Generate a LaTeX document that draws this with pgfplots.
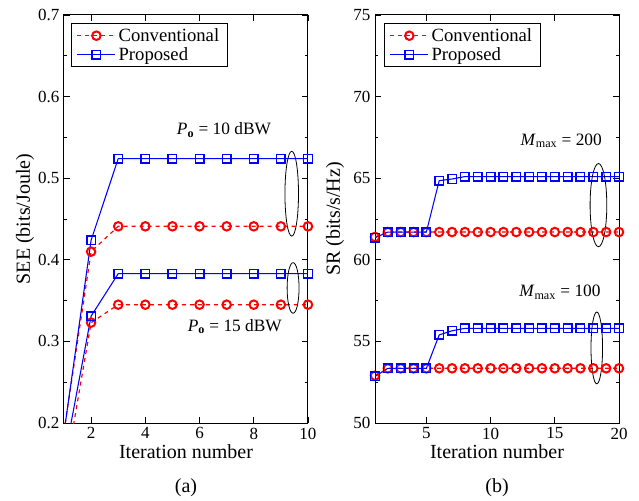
\documentclass[border=0pt]{standalone}
\usepackage{fontspec}
\setmainfont{Liberation Serif}
\usepackage{pgfplots}
\pgfplotsset{compat=1.18}
\definecolor{myred}{RGB}{255,0,0}
\definecolor{myblue}{RGB}{0,0,255}
\pgfplotsset{
  common/.style={
    scale only axis, width=183pt, height=306pt,
    /pgf/number format/assume math mode=true,
    tick label style={font=\fontsize{12.75}{14}\selectfont},
    label style={font=\fontsize{15}{17}\selectfont},
    legend style={font=\fontsize{14}{16}\selectfont, draw=black, line width=0.6pt,
      inner xsep=4pt, inner ysep=1.5pt, row sep=-1pt, legend cell align=left},
    major tick length=4.5pt, minor tick length=2.5pt,
    tick style={black, line width=0.6pt},
    axis line style={line width=0.75pt},
    minor y tick num=1,
    clip=true,
  },
  conv/.style={myred, dashed, line width=0.9pt, mark=o, mark size=3.2pt,
    mark options={solid, line width=1.5pt}},
  prop/.style={myblue, solid, line width=0.8pt, mark=square, mark size=3.2pt,
    mark options={solid, line width=1.1pt}},
  legend image code/.code={\draw[mark repeat=2,mark phase=2] plot coordinates {(0cm,0cm) (0.5cm,0cm) (1.0cm,0cm)};},
}
\begin{document}
\begin{tikzpicture}
\useasboundingbox (-48pt,-57.75pt) rectangle (431.25pt,317.25pt);
% ---------------- (a)
\begin{axis}[common, name=left, at={(0pt,0pt)}, anchor=south west,
  xmin=1, xmax=10, ymin=0.2, ymax=0.7,
  xtick={2,4,6,8,10}, ytick={0.2,0.3,0.4,0.5,0.6,0.7},
  yticklabel style={/pgf/number format/.cd, fixed, precision=1},
  xlabel={Iteration number}, ylabel={SEE (bits/Joule)},
  xlabel style={at={(axis description cs:0.5,-0.071)}, anchor=center},
  ylabel style={at={(axis description cs:-0.16,0.5)}, anchor=center},
  legend style={at={(axis description cs:0.029,0.98)}, anchor=north west},
]
\addplot[conv] coordinates {(1,0.19) (2,0.410) (3,0.441) (4,0.441) (5,0.441) (6,0.441) (7,0.441) (8,0.441) (9,0.441) (10,0.441)};
\addlegendentry{Conventional}
\addplot[prop] coordinates {(1,0.188) (2,0.424) (3,0.524) (4,0.524) (5,0.524) (6,0.524) (7,0.524) (8,0.524) (9,0.524) (10,0.524)};
\addlegendentry{Proposed}
\addplot[conv, forget plot] coordinates {(1,0.13) (2,0.323) (3,0.345) (4,0.345) (5,0.345) (6,0.345) (7,0.345) (8,0.345) (9,0.345) (10,0.345)};
\addplot[prop, forget plot] coordinates {(1,0.154) (2,0.331) (3,0.383) (4,0.383) (5,0.383) (6,0.383) (7,0.383) (8,0.383) (9,0.383) (10,0.383)};
\draw[black, line width=0.6pt] (axis cs:9.4,0.481) ellipse [x radius=0.25, y radius=0.052];
\draw[black, line width=0.6pt] (axis cs:9.45,0.3655) ellipse [x radius=0.22, y radius=0.031];
\node[font=\fontsize{13}{15}\selectfont] at (axis cs:6.9,0.559) {\textit{P}\textsubscript{\textbf{o}} = 10 dBW};
\node[font=\fontsize{13}{15}\selectfont] at (axis cs:7.3,0.318) {\textit{P}\textsubscript{\textbf{o}} = 15 dBW};
\end{axis}
% ---------------- (b)
\begin{axis}[common, name=right, at={(233.25pt,0pt)}, anchor=south west,
  xmin=1, xmax=20, ymin=50, ymax=75,
  xtick={5,10,15,20}, ytick={50,55,60,65,70,75},
  xlabel={Iteration number}, ylabel={SR (bits/s/Hz)},
  xlabel style={at={(axis description cs:0.5,-0.071)}, anchor=center},
  ylabel style={at={(axis description cs:-0.164,0.5)}, anchor=center},
  legend style={at={(axis description cs:0.037,0.98)}, anchor=north west},
]
\addplot[conv] coordinates {(1,61.4) (2,61.7) (3,61.7) (4,61.7) (5,61.7) (6,61.7) (7,61.7) (8,61.7) (9,61.7) (10,61.7) (11,61.7) (12,61.7) (13,61.7) (14,61.7) (15,61.7) (16,61.7) (17,61.7) (18,61.7) (19,61.7) (20,61.7)};
\addlegendentry{Conventional}
\addplot[prop] coordinates {(1,61.35) (2,61.7) (3,61.7) (4,61.7) (5,61.7) (6,64.85) (7,64.95) (8,65.1) (9,65.1) (10,65.1) (11,65.1) (12,65.1) (13,65.1) (14,65.1) (15,65.1) (16,65.1) (17,65.1) (18,65.1) (19,65.1) (20,65.1)};
\addlegendentry{Proposed}
\addplot[conv, forget plot] coordinates {(1,52.9) (2,53.35) (3,53.35) (4,53.35) (5,53.35) (6,53.35) (7,53.35) (8,53.35) (9,53.35) (10,53.35) (11,53.35) (12,53.35) (13,53.35) (14,53.35) (15,53.35) (16,53.35) (17,53.35) (18,53.35) (19,53.35) (20,53.35)};
\addplot[prop, forget plot] coordinates {(1,52.85) (2,53.35) (3,53.35) (4,53.35) (5,53.35) (6,55.4) (7,55.65) (8,55.8) (9,55.8) (10,55.8) (11,55.8) (12,55.8) (13,55.8) (14,55.8) (15,55.8) (16,55.8) (17,55.8) (18,55.8) (19,55.8) (20,55.8)};
\draw[black, line width=0.6pt] (axis cs:18.4,63.35) ellipse [x radius=0.65, y radius=2.55];
\draw[black, line width=0.6pt] (axis cs:18.27,54.6) ellipse [x radius=0.45, y radius=2.2];
\node[font=\fontsize{13}{15}\selectfont] at (axis cs:15.5,67.3) {\textit{M}\textsubscript{max} = 200};
\node[font=\fontsize{13}{15}\selectfont] at (axis cs:15.4,58.0) {\textit{M}\textsubscript{max} = 100};
\end{axis}
\node[font=\fontsize{15}{17}\selectfont] at ([yshift=-48.75pt]left.south) {(a)};
\node[font=\fontsize{15}{17}\selectfont] at ([yshift=-48.75pt]right.south) {(b)};
\end{tikzpicture}
\end{document}
